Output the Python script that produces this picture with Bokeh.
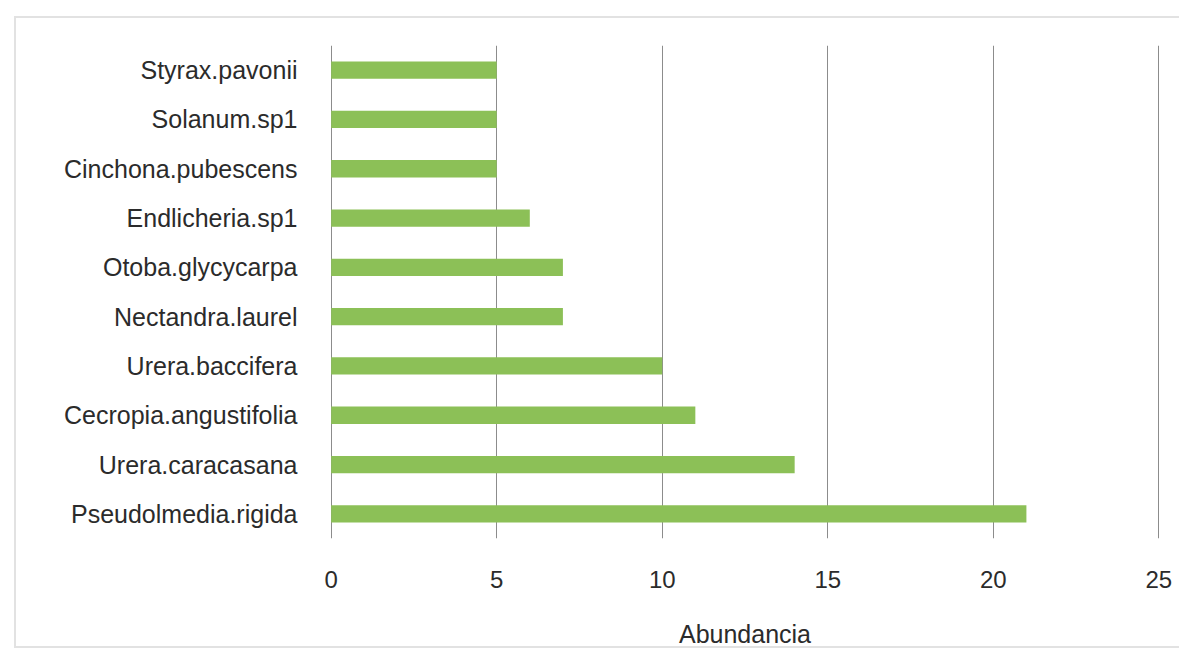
from bokeh.plotting import figure
from bokeh.models import FactorRange, Range1d, FixedTicker
from bokeh.embed import file_html
from bokeh.resources import INLINE

# Species abundance (number of individuals), top to bottom as listed
species = [
    "Styrax.pavonii",
    "Solanum.sp1",
    "Cinchona.pubescens",
    "Endlicheria.sp1",
    "Otoba.glycycarpa",
    "Nectandra.laurel",
    "Urera.baccifera",
    "Cecropia.angustifolia",
    "Urera.caracasana",
    "Pseudolmedia.rigida",
]
abundance = [5, 5, 5, 6, 7, 7, 10, 11, 14, 21]
x_ticks = [0, 5, 10, 15, 20, 25]

FONT = "Liberation Sans"
TEXT = "#2b2b2b"

# bottom-to-top order for the categorical axis
factors = list(reversed(species))

p = figure(
    width=1165, height=632,
    y_range=FactorRange(*factors),
    # a hair of slack so the grid lines at 0 and 25 are drawn
    x_range=Range1d(-0.02, 25.02),
    output_backend="svg",
    toolbar_location=None,
    min_border_left=314, min_border_right=22,
    min_border_top=27, min_border_bottom=112,
)
p.styles = {
    "margin-left": "14px",
    "margin-top": "16px",
    "border-left": "2px solid #e2e2e2",
    "border-top": "2px solid #e2e2e2",
    "border-bottom": "2px solid #e2e2e2",
    "border-right": "0px solid white",
    "overflow": "hidden",
}

p.hbar(y=species, right=abundance, left=0, height=0.35,
       fill_color="#8cc057", line_color=None)

p.outline_line_color = None
p.background_fill_color = "white"
p.border_fill_color = "white"

p.ygrid.grid_line_color = None
p.xgrid.grid_line_color = "#8c8c8c"
p.xgrid.grid_line_width = 1
p.xaxis.ticker = FixedTicker(ticks=x_ticks)

for ax in (p.xaxis[0], p.yaxis[0]):
    ax.axis_line_color = None
    ax.major_tick_line_color = None
    ax.minor_tick_line_color = None
    ax.major_tick_in = 0
    ax.major_tick_out = 0
    ax.major_label_text_font = FONT
    ax.major_label_text_color = TEXT

p.yaxis.major_label_text_font_size = "25px"
p.xaxis.major_label_text_font_size = "24px"
p.yaxis.major_label_standoff = 33
p.xaxis.major_label_standoff = 32
p.xaxis.axis_label = "Abundancia"
p.xaxis.axis_label_text_font = FONT
p.xaxis.axis_label_text_font_size = "25px"
p.xaxis.axis_label_text_font_style = "normal"
p.xaxis.axis_label_text_color = TEXT
p.xaxis.axis_label_standoff = 29

open("out.html", "w").write(file_html(p, INLINE))
